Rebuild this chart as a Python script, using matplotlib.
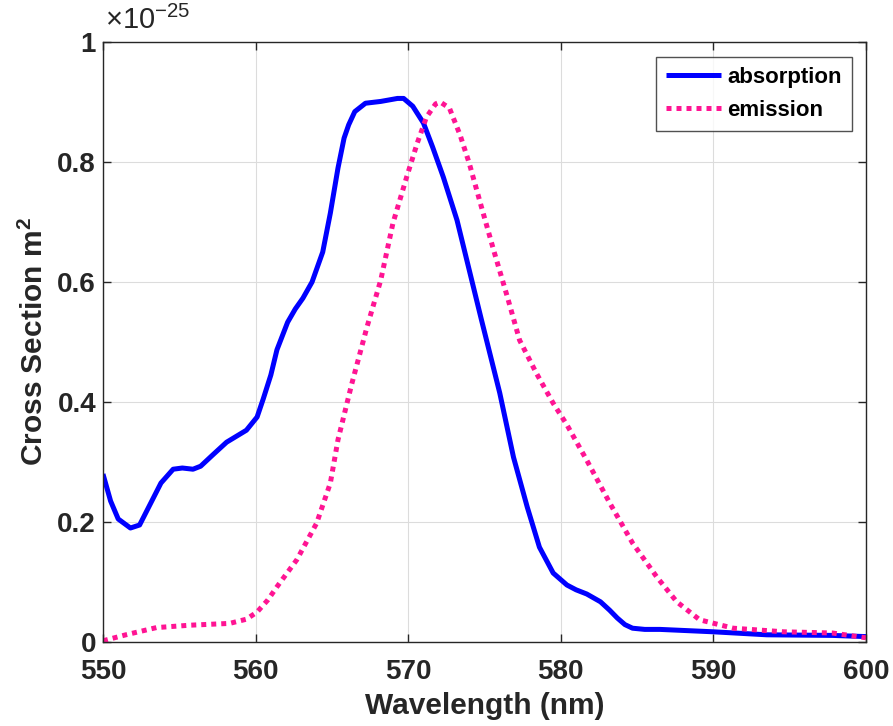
import matplotlib
matplotlib.use("Agg")
import matplotlib.pyplot as plt

plt.rcParams['font.family'] = ['Liberation Sans', 'DejaVu Sans']
plt.rcParams['mathtext.fontset'] = 'custom'
plt.rcParams['mathtext.rm'] = 'Liberation Sans'
plt.rcParams['mathtext.bf'] = 'Liberation Sans:bold'

# Cross sections in units of 1e-25 m^2
abs_wl = [550.0, 550.5, 551.0, 551.8, 552.4, 553.0, 553.8, 554.6, 555.2, 555.9, 556.4,
          557.2, 558.1, 559.4, 560.1, 560.5, 561.0, 561.4, 562.1, 562.6, 563.1, 563.7, 564.4,
          564.9, 565.4, 565.8, 566.1, 566.5, 567.2, 568.2, 569.3, 569.7, 570.3, 571.0,
          571.6, 572.3, 573.2, 574.0, 574.8, 576.0, 576.9, 577.8, 578.6, 579.5, 580.4,
          581.0, 581.7, 582.6, 583.2, 583.7, 584.2, 584.7, 585.5, 586.5, 590.0, 593.5,
          597.8, 600.0]
abs_cs = [0.280, 0.235, 0.205, 0.190, 0.195, 0.225, 0.265, 0.288, 0.290, 0.288, 0.293,
          0.312, 0.333, 0.353, 0.375, 0.405, 0.445, 0.487, 0.533, 0.555, 0.573, 0.600, 0.650,
          0.715, 0.790, 0.840, 0.862, 0.884, 0.898, 0.901, 0.906, 0.906, 0.893, 0.865,
          0.825, 0.775, 0.703, 0.620, 0.537, 0.415, 0.308, 0.225, 0.158, 0.115, 0.095,
          0.087, 0.080, 0.067, 0.053, 0.040, 0.029, 0.023, 0.021, 0.021, 0.017, 0.012,
          0.011, 0.009]

em_wl = [550.0, 551.5, 553.5, 555.7, 558.3, 559.4, 560.1, 560.8, 561.4, 562.7, 564.0,
         564.9, 565.4, 566.3, 567.3, 568.2, 569.0, 569.9, 570.6, 571.2, 571.8, 572.1,
         572.7, 573.4, 574.0, 574.8, 575.6, 576.5, 577.3, 578.4, 579.5, 580.4, 581.7,
         583.2, 584.7, 586.3, 587.6, 589.1, 591.3, 594.6, 597.8, 600.0]
em_cs = [0.002, 0.012, 0.024, 0.028, 0.031, 0.038, 0.050, 0.070, 0.092, 0.137, 0.198,
         0.265, 0.337, 0.430, 0.525, 0.603, 0.698, 0.775, 0.832, 0.875, 0.897, 0.900,
         0.890, 0.845, 0.798, 0.725, 0.653, 0.575, 0.503, 0.448, 0.398, 0.362, 0.303,
         0.232, 0.165, 0.108, 0.067, 0.037, 0.023, 0.017, 0.015, 0.007]

fig = plt.figure(figsize=(8.93, 7.26), dpi=100)
ax = fig.add_axes([0.1153, 0.1157, 0.8545, 0.8264])

ax.plot(abs_wl, abs_cs, color='#0000ff', lw=3.6, label='absorption',
        solid_capstyle='butt', solid_joinstyle='round')
ax.plot(em_wl, em_cs, color='#ff1493', lw=3.6, linestyle=(0, (1, 1)),
        dash_capstyle='butt', label='emission')

ax.set_xlim(550, 600)
ax.set_ylim(0, 1)
ax.set_xticks([550, 560, 570, 580, 590, 600])
ax.set_yticks([0, 0.2, 0.4, 0.6, 0.8, 1.0])
ax.set_yticklabels(['0', '0.2', '0.4', '0.6', '0.8', '1'])
ax.grid(True, color='#dcdcdc', lw=0.8)
ax.set_axisbelow(True)
ax.tick_params(direction='in', length=6, width=1, top=True, right=True,
               labelsize=20, colors='#262626')
ax.tick_params(axis='y', pad=5)
ax.tick_params(axis='x', pad=12)
for lbl in ax.get_xticklabels() + ax.get_yticklabels():
    lbl.set_fontweight('bold')
for sp in ax.spines.values():
    sp.set_color('#262626')
    sp.set_linewidth(1)

ax.set_xlabel('Wavelength (nm)', fontsize=21.5, fontweight='bold', color='#262626', labelpad=5)
ax.set_ylabel(r'Cross Section m$^{\mathbf{2}}$', fontsize=21.5, fontweight='bold',
              color='#262626', labelpad=6)

ax.text(0.003, 1.012, r'$\times$10$^{-25}$', transform=ax.transAxes, fontsize=21,
        color='#262626', ha='left', va='bottom')

leg = ax.legend(loc='upper right', bbox_to_anchor=(0.9815, 0.975),
                prop={'weight': 'bold', 'size': 16}, frameon=True, fancybox=False,
                handlelength=2.45, handletextpad=0.3, borderpad=0.45, labelspacing=0.55,
                borderaxespad=0.0)
leg.get_frame().set_edgecolor('#262626')
leg.get_frame().set_linewidth(1)

fig.savefig('out.png', dpi=100)
